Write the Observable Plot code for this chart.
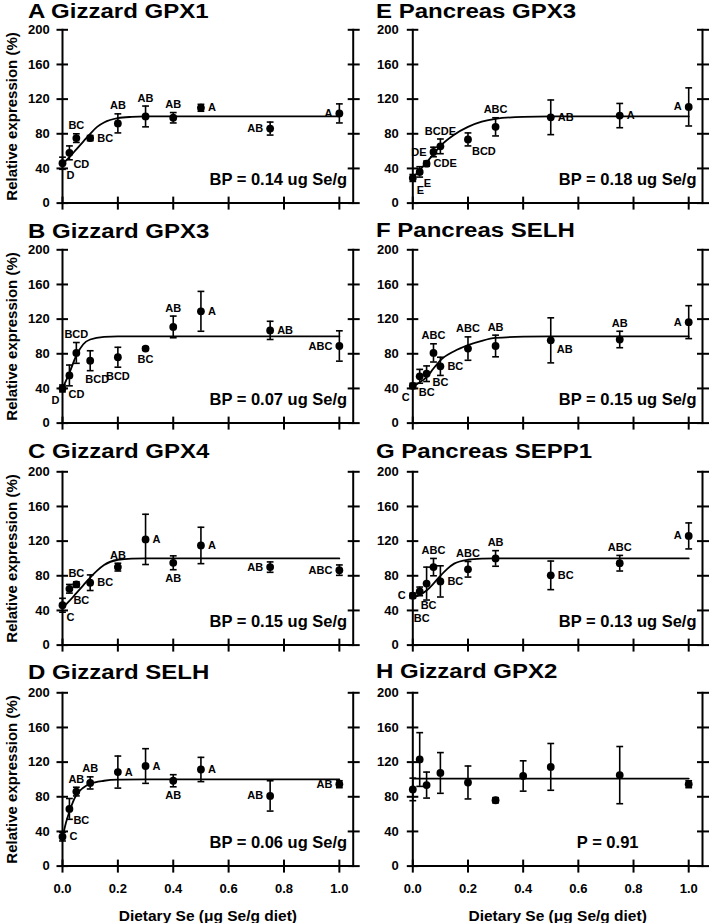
<!DOCTYPE html>
<html><head><meta charset="utf-8">
<script src="https://cdn.jsdelivr.net/npm/d3@7"></script>
<script src="https://cdn.jsdelivr.net/npm/@observablehq/plot@0.6"></script>
<style>
body{margin:0;background:#fff;}
#fig{position:relative;width:726px;height:923px;font-family:"Liberation Sans",Arial,sans-serif;background:#fff;overflow:hidden;}
.panel{position:absolute;width:363px;}
.title{position:absolute;font-weight:bold;font-size:20px;line-height:1.117;white-space:nowrap;color:#000;
       transform:scaleX(1.2);transform-origin:0 0;}
</style></head>
<body><div id="fig"></div>
<script>
// ---- data ----
const titles = ["A Gizzard GPX1","B Gizzard GPX3","C Gizzard GPX4","D Gizzard SELH",
                "E Pancreas GPX3","F Pancreas SELH","G Pancreas SEPP1","H Gizzard GPX2"];
const notes = ["BP = 0.14 ug Se/g","BP = 0.07 ug Se/g","BP = 0.15 ug Se/g","BP = 0.06 ug Se/g",
               "BP = 0.18 ug Se/g","BP = 0.15 ug Se/g","BP = 0.13 ug Se/g","P = 0.91"];
const xTicks = [0, 0.2, 0.4, 0.6, 0.8, 1.0];
const yTicks = [0, 40, 80, 120, 160, 200];
const yLabel = "Relative expression (%)";
const xLabel = "Dietary Se (\u03bcg Se/g diet)";

const dosesGizzard = [0, 0.025, 0.05, 0.1, 0.2, 0.3, 0.4, 0.5, 0.75, 1.0];
const dosesPancreas = [0, 0.025, 0.05, 0.075, 0.1, 0.2, 0.3, 0.5, 0.75, 1.0];

const meanA = [46, 58, 75, 75, 92, 100, 98.5, 110, 86, 103.5];
const seA   = [7, 8, 5, 3, 11, 12, 6, 4, 7.5, 11];
const letA  = ["D","CD","BC","BC","AB","AB","AB","A","AB","A"];
const fitAx = [0, 0.025, 0.05, 0.075, 0.1, 0.125, 0.15, 0.2, 0.25, 0.3, 1.0];
const fitAy = [45, 53, 62, 71, 80, 88, 93, 98, 99.5, 100, 100];

const meanB = [40, 55, 81, 72, 76, 86, 111, 129, 107, 89];
const seB   = [4, 12, 12, 11.5, 11.5, 2, 12.5, 23, 10.5, 17.5];
const letB  = ["D","CD","BCD","BCD","BCD","BC","AB","A","AB","ABC"];
const fitBx = [0, 0.025, 0.05, 0.075, 0.1, 0.15, 0.2, 1.0];
const fitBy = [40, 58, 78, 91, 96.5, 99.5, 100, 100];

const meanC = [46, 65, 70, 72, 90, 122, 95, 115, 90, 86.5];
const seC   = [8, 5, 3, 9, 4.5, 29, 8, 21, 6, 6];
const letC  = ["C","BC","BC","BC","AB","A","AB","A","AB","ABC"];
const fitCx = [0, 0.025, 0.05, 0.075, 0.1, 0.125, 0.15, 0.2, 0.25, 0.3, 1.0];
const fitCy = [43, 51, 60, 69, 78, 86, 92.5, 98.5, 99.8, 100, 100];

const meanD = [34, 66, 86, 96, 108.5, 115.5, 98.5, 111.5, 81, 94.5];
const seD   = [5, 12, 5, 7, 18.5, 20, 7, 14, 17.5, 4];
const letD  = ["C","BC","AB","AB","A","A","AB","A","AB","AB"];
const fitDx = [0, 0.0125, 0.025, 0.05, 0.075, 0.1, 0.15, 0.2, 0.3, 1.0];
const fitDy = [33, 50, 63, 82, 90.5, 95, 98.5, 99.7, 100, 100];

const meanE = [29, 36, 45.5, 59, 65.5, 73.5, 88, 99, 101, 111];
const seE   = [4, 6, 3, 5.5, 8.5, 7.5, 10.5, 20, 14, 22];
const letE  = ["E","E","CDE","DE","BCDE","BCD","ABC","AB","A","A"];
const fitEx = [0, 0.025, 0.05, 0.075, 0.1, 0.15, 0.2, 0.25, 0.3, 0.4, 0.5, 1.0];
const fitEy = [29, 38, 47, 56.5, 66, 79, 88, 94, 97.3, 99.5, 100, 100];

const meanF = [43, 54, 57, 81, 65.5, 86, 89, 95.5, 96.5, 116.5];
const seF   = [3, 8, 9, 10.5, 10.5, 13.5, 12.5, 26, 9.5, 19];
const letF  = ["C","BC","BC","ABC","BC","ABC","AB","AB","AB","A"];
const fitFx = [0, 0.025, 0.05, 0.075, 0.1, 0.15, 0.2, 0.25, 0.3, 0.4, 0.5, 1.0];
const fitFy = [42, 47, 53, 63, 72.5, 83, 90, 95, 98.3, 99.7, 100, 100];

const meanG = [57, 62, 71, 90, 73.5, 87.5, 100, 80.5, 94.5, 126];
const seG   = [3, 5, 19, 10, 18, 9, 9, 16.5, 9, 15];
const letG  = ["C","BC","BC","ABC","BC","ABC","AB","BC","ABC","A"];
const fitGx = [0, 0.025, 0.05, 0.075, 0.1, 0.125, 0.15, 0.2, 0.25, 0.3, 1.0];
const fitGy = [55, 58, 63, 71, 80, 88, 94, 98.5, 99.7, 100, 100];

const meanH = [88.5, 123, 93.5, 107.5, 96.5, 76, 104, 114.5, 105, 94.5];
const seH   = [13, 31, 15, 23.5, 19, 3, 17.5, 27, 33, 4];
const fitHx = [0, 1.0];
const fitHy = [101, 101];

// label placement around each point (layout, not data)
const placeA = ["br","br","t","r","t","t","t","r","l","l"];
const placeB = ["bl","b2","t","b2","b","b","t","r","r","l"];
const placeC = ["br","br","t","r","t","r","b","r","l","l"];
const placeD = ["r","br","t","t","r","r","b","r","l","l"];
const placeE = ["br","br","r","l","t","br","t","r","r","l"];
const placeF = ["bl","b2","rb","t","r","t","t","rb","t","l"];
const placeG = ["l","bb","bc","t","r","t","t","r","t","l"];

const panels = [
  {col:0,row:0,doses:dosesGizzard,mean:meanA,se:seA,letters:letA,place:placeA,fx:fitAx,fy:fitAy},
  {col:0,row:1,doses:dosesGizzard,mean:meanB,se:seB,letters:letB,place:placeB,fx:fitBx,fy:fitBy},
  {col:0,row:2,doses:dosesGizzard,mean:meanC,se:seC,letters:letC,place:placeC,fx:fitCx,fy:fitCy},
  {col:0,row:3,doses:dosesGizzard,mean:meanD,se:seD,letters:letD,place:placeD,fx:fitDx,fy:fitDy},
  {col:1,row:0,doses:dosesPancreas,mean:meanE,se:seE,letters:letE,place:placeE,fx:fitEx,fy:fitEy},
  {col:1,row:1,doses:dosesPancreas,mean:meanF,se:seF,letters:letF,place:placeF,fx:fitFx,fy:fitFy},
  {col:1,row:2,doses:dosesPancreas,mean:meanG,se:seG,letters:letG,place:placeG,fx:fitGx,fy:fitGy},
  {col:1,row:3,doses:dosesGizzard,mean:meanH,se:seH,letters:null,place:null,fx:fitHx,fy:fitHy,noteDx:-64}
];

// ---- layout ----
const rowTop = [0, 220, 442, 663];
const TITLE_PX = 20;
const titleBaseline = [[18.1, 237.6, 458.3, 679.3], [18.1, 237.3, 458.3, 677.8]];
const colLeft = [0, 363];
const colMargin = [{l:62, r:10.3, pad:7.2}, {l:49.3, r:24, pad:8.5}];
const titleLeft = [28, 376];
const FONT = "'Liberation Sans', Arial, sans-serif";

const placeStyle = {
  t:  {at:"hi",  dx:0,  dy:-8, anchor:"middle"},
  b:  {at:"lo",  dx:0,  dy:9,  anchor:"middle"},
  b2: {at:"lo",  dx:7,  dy:9,  anchor:"middle"},
  bc: {at:"lo",  dx:2,  dy:5,  anchor:"middle"},
  bb: {at:"mean",dx:2,  dy:27, anchor:"middle"},
  r:  {at:"mean",dx:7,  dy:0,  anchor:"start"},
  rb: {at:"mean",dx:6,  dy:9,  anchor:"start"},
  l:  {at:"mean",dx:-7, dy:0,  anchor:"end"},
  br: {at:"mean",dx:4,  dy:12, anchor:"start"},
  bl: {at:"mean",dx:-3, dy:12, anchor:"end"}
};

const capSymbol = {
  draw(ctx, size) { const w = Math.sqrt(size / Math.PI); ctx.moveTo(-w, 0); ctx.lineTo(w, 0); }
};

const fig = document.getElementById("fig");

panels.forEach((p, k) => {
  const cm = colMargin[p.col];
  const last = p.row === 3;
  const height = last ? 260 : 220;
  const pts = p.doses.map((d, i) => ({
    dose: d, mean: p.mean[i], lo: p.mean[i] - p.se[i], hi: p.mean[i] + p.se[i],
    letter: p.letters ? p.letters[i] : "", place: p.place ? p.place[i] : null
  }));
  const fit = p.fx.map((x, i) => ({dose: x, value: p.fy[i]}));
  const axisStyle = {stroke: "black", strokeWidth: 2};
  const marks = [
    Plot.frame({anchor: "left", ...axisStyle}),
    Plot.frame({anchor: "right", ...axisStyle}),
    Plot.frame({anchor: "bottom", ...axisStyle}),
    Plot.axisY({ticks: yTicks, anchor: "left", tickSize: 5.5, tickPadding: cm.pad, fontSize: 13, fontWeight: "bold", fill: "black", label: null, ...axisStyle}),
    Plot.axisY({ticks: yTicks, anchor: "left", tickSize: 6, dx: 6, fill: "none", label: null, ...axisStyle}),
    Plot.axisY({ticks: yTicks, anchor: "right", tickSize: 6, fill: "none", label: null, ...axisStyle}),
    Plot.axisY({ticks: yTicks, anchor: "right", tickSize: 6, dx: -6, fill: "none", label: null, ...axisStyle}),
    Plot.axisX({ticks: xTicks, anchor: "bottom", tickSize: 7, tickPadding: 11, tickFormat: d3.format(".1f"),
                fontSize: 13, fontWeight: "bold", fill: last ? "black" : "none", label: null, ...axisStyle}),
    Plot.axisX({ticks: xTicks, anchor: "bottom", tickSize: 6, dy: -6, fill: "none", label: null, ...axisStyle}),
    Plot.line(fit, {x: "dose", y: "value", curve: "monotone-x", stroke: "black", strokeWidth: 1.8}),
    Plot.ruleX(pts, {x: "dose", y1: "lo", y2: "hi", stroke: "black", strokeWidth: 1.6}),
    Plot.dot(pts, {x: "dose", y: "hi", symbol: capSymbol, r: 3.4, stroke: "black", fill: "none", strokeWidth: 1.6}),
    Plot.dot(pts, {x: "dose", y: "lo", symbol: capSymbol, r: 3.4, stroke: "black", fill: "none", strokeWidth: 1.6}),
    Plot.dot(pts, {x: "dose", y: "mean", r: 3.9, fill: "black", stroke: "none"}),
    Plot.text([notes[k]], {frameAnchor: "bottom-right", textAnchor: "end", lineAnchor: "middle",
      dx: p.noteDx ?? -6, dy: -23, fontSize: 16.5, fontWeight: "bold", fill: "black"})
  ];
  for (const [code, st] of Object.entries(placeStyle)) {
    const sub = pts.filter(d => d.place === code);
    if (!sub.length) continue;
    marks.push(Plot.text(sub, {x: "dose", y: st.at, text: "letter", dx: st.dx, dy: st.dy,
      textAnchor: st.anchor, lineAnchor: "middle", fontSize: 11, fontWeight: "bold", fill: "black"}));
  }
  if (p.col === 0) {
    marks.push(Plot.text([yLabel], {frameAnchor: "left", rotate: -90, dx: -56, textAnchor: "middle",
      lineAnchor: "top", fontSize: 15, fontWeight: "bold", fill: "black"}));
  }
  if (last) {
    marks.push(Plot.text([xLabel], {frameAnchor: "bottom", dy: 44, textAnchor: "middle",
      lineAnchor: "top", fontSize: 15.5, fontWeight: "bold", fill: "black"}));
  }
  const svg = Plot.plot({
    width: 363, height,
    marginLeft: cm.l, marginRight: cm.r, marginTop: 29.3, marginBottom: height - 202.6,
    x: {domain: [0, 1.05]},
    y: {domain: [0, 200]},
    style: {fontFamily: FONT, background: "transparent", color: "black", overflow: "visible"},
    marks
  });
  const div = document.createElement("div");
  div.className = "panel";
  div.style.left = colLeft[p.col] + "px";
  div.style.top = rowTop[p.row] + "px";
  div.appendChild(svg);
  fig.appendChild(div);
});

panels.forEach((p, k) => {
  const t = document.createElement("div");
  t.className = "title";
  t.style.left = titleLeft[p.col] + "px";
  // line box equals the font's content area, so top = baseline - ascent
  t.style.top = (titleBaseline[p.col][p.row] - 0.905 * TITLE_PX) + "px";
  t.textContent = titles[k];
  fig.appendChild(t);
});
</script>
</body></html>
